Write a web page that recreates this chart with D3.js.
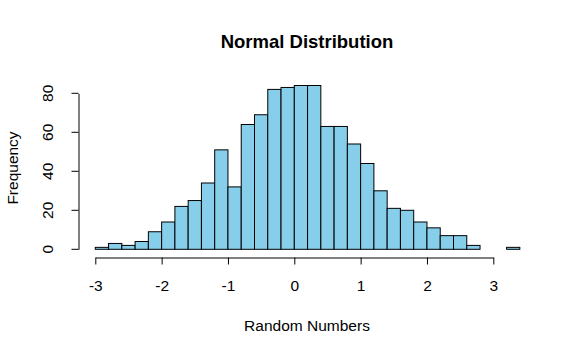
<!DOCTYPE html>
<html>
<head>
<meta charset="utf-8">
<script src="https://cdn.jsdelivr.net/npm/d3@7"></script>
<style>
  body { margin: 0; background: #fff; }
  text { font-family: "Liberation Sans", Arial, sans-serif; fill: #000; }
</style>
</head>
<body>
<div id="graf"></div>
<script>
// bordes de los bins (ancho 0.2) y frecuencias
binStart = [-3.0, -2.8, -2.6, -2.4, -2.2, -2.0, -1.8, -1.6, -1.4, -1.2, -1.0,
            -0.8, -0.6, -0.4, -0.2, 0.0, 0.2, 0.4, 0.6, 0.8, 1.0, 1.2, 1.4,
            1.6, 1.8, 2.0, 2.2, 2.4, 2.6, 2.8, 3.0, 3.2]
frecuencias = [1, 3, 2, 4, 9, 14, 22, 25, 34, 51, 32,
               64, 69, 82, 83, 84, 84, 63, 63, 54, 44, 30, 21,
               20, 14, 11, 7, 7, 2, 0, 0, 1]
binWidth = 0.2
xTicks = [-3, -2, -1, 0, 1, 2, 3]
yTicks = [0, 20, 40, 60, 80]

ancho_total = 577
alto_total = 354

svg = d3.select('#graf').append('svg')
        .attr('width', ancho_total)
        .attr('height', alto_total)

// Escaladores
x = d3.scaleLinear().domain([-3, 3]).range([95.3, 493.3])
y = d3.scaleLinear().domain([0, 80]).range([249.3, 93.3])

data = binStart.map((b, i) => ({ x0: b, x1: b + binWidth, n: frecuencias[i] }))

// Barras
svg.append('g')
   .selectAll('rect')
   .data(data)
   .join('rect')
   .attr('x', d => x(d.x0))
   .attr('y', d => y(d.n))
   .attr('width', d => x(d.x1) - x(d.x0))
   .attr('height', d => y(0) - y(d.n))
   .attr('fill', 'skyblue')
   .attr('stroke', d => d.n > 0 ? '#000' : 'none')
   .attr('stroke-width', 1)

// Ejes (formato con guion normal, como R)
fmt = d => String(d)

xAxis = svg.append('g')
           .attr('transform', 'translate(0, 257.5)')
           .call(d3.axisBottom(x).tickValues(xTicks).tickFormat(fmt).tickSize(7).tickSizeOuter(0).tickPadding(15))
xAxis.selectAll('text').style('font-size', '15.5px')
xAxis.selectAll('line, path').attr('stroke', '#000')

yAxis = svg.append('g')
           .attr('transform', 'translate(78.5, 0)')
           .call(d3.axisLeft(y).tickValues(yTicks).tickFormat(fmt).tickSize(7).tickSizeOuter(0))
yAxis.selectAll('line, path').attr('stroke', '#000')
yAxis.selectAll('text')
     .style('font-size', '15.5px')
     .attr('text-anchor', 'middle')
     .attr('x', 0).attr('dy', 0)
     .attr('transform', d => `translate(-31, ${y(d)}) rotate(-90) translate(0, ${-y(d)})`)
     .attr('y', d => y(d) + 5.5)
yAxis.selectAll('.tick').attr('transform', null)
yAxis.selectAll('.tick line').attr('y1', d => y(d)).attr('y2', d => y(d))

// Titulos
svg.append('text')
   .attr('x', 307).attr('y', 48)
   .attr('text-anchor', 'middle')
   .style('font-size', '18.5px')
   .style('font-weight', 'bold')
   .text('Normal Distribution')

svg.append('text')
   .attr('x', 307).attr('y', 331)
   .attr('text-anchor', 'middle')
   .style('font-size', '15.5px')
   .text('Random Numbers')

svg.append('text')
   .attr('transform', 'translate(18, 168) rotate(-90)')
   .attr('text-anchor', 'middle')
   .style('font-size', '15.5px')
   .text('Frequency')
</script>
</body>
</html>
